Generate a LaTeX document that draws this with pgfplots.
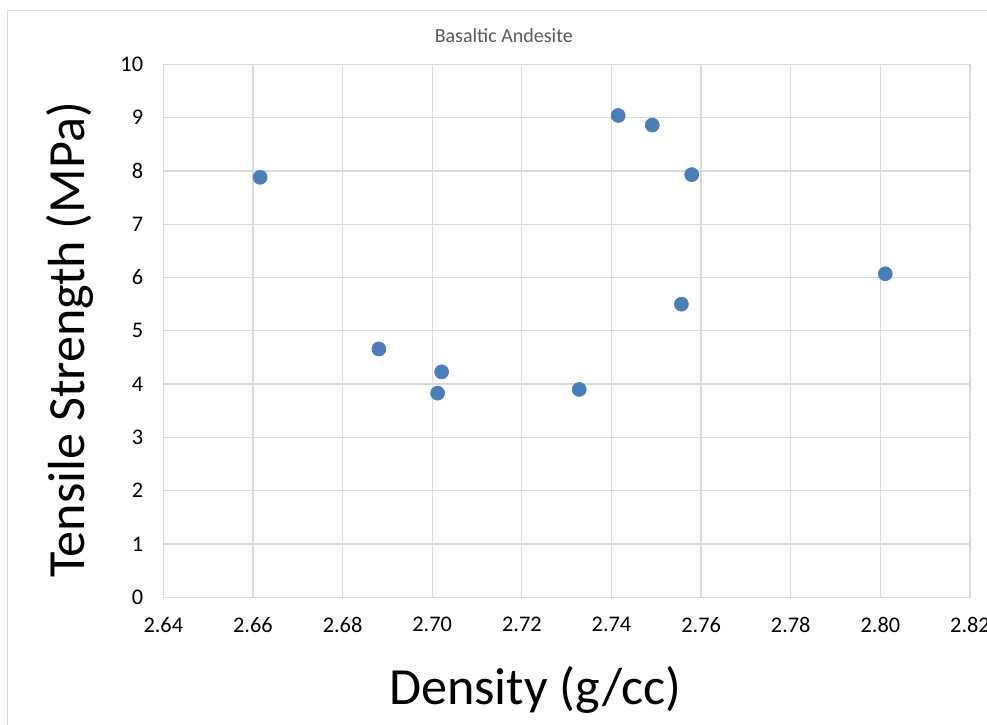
\documentclass[border=0pt]{standalone}
\usepackage{fontspec}
\setmainfont{Carlito}
\usepackage{pgfplots}
\pgfplotsset{compat=1.18}
\definecolor{gridc}{HTML}{D9D9D9}
\definecolor{markc}{HTML}{4A7EBB}
\definecolor{titlec}{HTML}{595959}
\begin{document}
\begin{tikzpicture}
\path[use as bounding box] (0,0) rectangle (592.2pt,435pt);
\clip (0,0) rectangle (592.2pt,435pt);
\draw[gridc, line width=0.75pt] (4.4pt,-10pt) -- (4.4pt,428.8pt) -- (620pt,428.8pt);
\begin{axis}[
  at={(98pt,76.6pt)}, anchor=south west,
  scale only axis, width=484pt, height=319.8pt,
  xmin=2.64, xmax=2.82, ymin=0, ymax=10,
  xtick={2.64,2.66,...,2.821}, ytick={0,1,...,10},
  grid=major, major grid style={gridc, line width=0.75pt},
  axis line style={gridc, line width=0.75pt},
  major tick length=0pt,
  /pgf/number format/assume math mode=true,
  xticklabel style={font=\fontsize{13.4}{15}\selectfont, yshift=-8.5pt, /pgf/number format/.cd, fixed, fixed zerofill, precision=2, assume math mode=true},
  yticklabel style={font=\fontsize{13.4}{15}\selectfont, xshift=-8.6pt},
  scaled x ticks=false,
  xlabel={Density (g/cc)},
  ylabel={Tensile Strength (MPa)},
  xlabel style={font=\fontsize{31.3}{36}\selectfont, at={(axis description cs:0.461,-0.174)}, anchor=center},
  ylabel style={font=\fontsize{31.3}{36}\selectfont, at={(axis description cs:-0.1157,0.483)}, anchor=center, rotate=0},
  title={Basaltic Andesite},
  title style={font=\fontsize{12}{14}\selectfont, text=titlec, at={(axis description cs:0.422,1.0)}, anchor=center, yshift=11.4pt},
  clip=false,
]
\addplot[only marks, mark=*, mark size=4.2pt, mark options={fill=markc, draw=markc}] coordinates {
(2.6616,7.88)
(2.6881,4.66)
(2.7021,4.23)
(2.7012,3.83)
(2.7328,3.90)
(2.7415,9.04)
(2.7491,8.86)
(2.7579,7.93)
(2.7556,5.50)
(2.8011,6.07)
};
\end{axis}
\end{tikzpicture}
\end{document}
